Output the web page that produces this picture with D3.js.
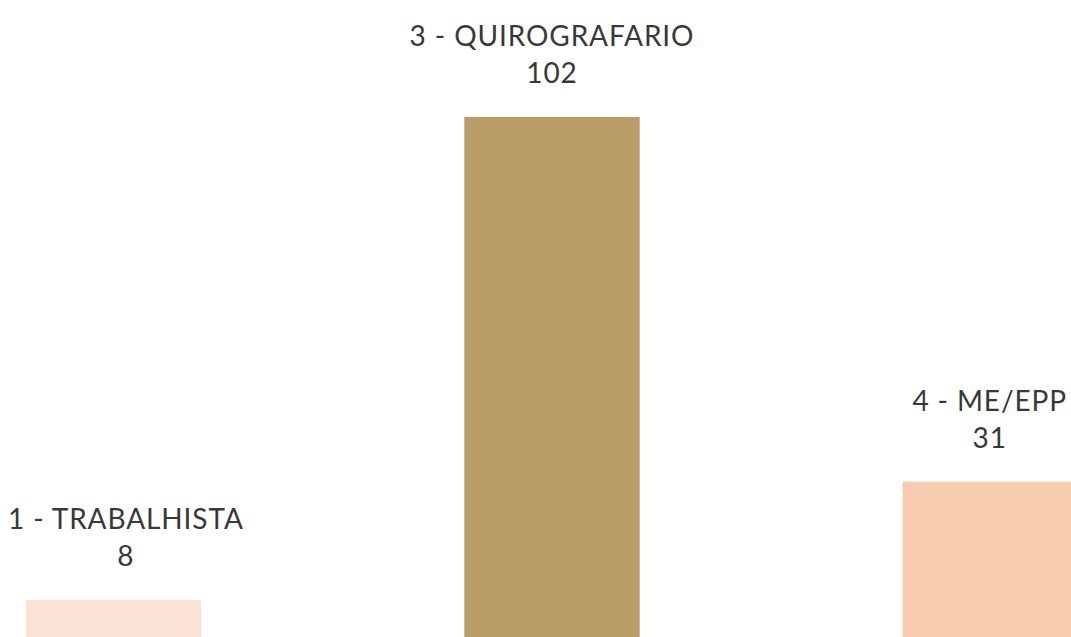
<!DOCTYPE html>
<html>
<head>
<meta charset="utf-8">
<script src="https://cdn.jsdelivr.net/npm/d3@7"></script>
<style>
  html, body { margin: 0; padding: 0; background: #fff; overflow: hidden; }
  .label { font-family: Lato, "Open Sans", sans-serif; font-size: 28px; letter-spacing: 0.9px; fill: #383838; }
</style>
</head>
<body>
<svg width="1071" height="637"></svg>
<script>
// dados
var categorias = ["1 - TRABALHISTA", "3 - QUIROGRAFARIO", "4 - ME/EPP"];
var valores = [8, 102, 31];
var cores = ["#fae3d5", "#b99d66", "#f6cbae"];

var svg = d3.select("svg"),
    width = +svg.attr("width"),
    margem = 8,
    top_bar = 117,
    base = 641;

var x = d3.scaleBand()
    .domain(categorias)
    .range([26, 1078])
    .paddingInner(0.6)
    .paddingOuter(0);

var y = d3.scaleLinear()
    .domain([0, d3.max(valores)])
    .range([base, top_bar]);

var dados = categorias.map(function(c, i) { return { nome: c, valor: valores[i], cor: cores[i] }; });

svg.selectAll("rect")
  .data(dados)
  .enter().append("rect")
    .attr("x", function(d) { return x(d.nome); })
    .attr("y", function(d) { return y(d.valor); })
    .attr("width", x.bandwidth())
    .attr("height", function(d) { return base - y(d.valor); })
    .style("fill", function(d) { return d.cor; });

var rotulo = svg.selectAll("text.label")
  .data(dados)
  .enter().append("text")
    .attr("class", "label")
    .attr("text-anchor", "middle");

rotulo.append("tspan")
    .attr("x", 0)
    .attr("dy", -37)
    .text(function(d) { return d.nome; });

rotulo.append("tspan")
    .attr("x", 0)
    .attr("dy", 37)
    .text(function(d) { return d.valor; });

// empurra o rotulo para dentro da area visivel
rotulo.attr("transform", function(d) {
  var w = this.getBBox().width,
      cx = x(d.nome) + x.bandwidth() / 2;
  cx = Math.max(margem + w / 2, Math.min(width - margem / 2 - w / 2, cx));
  return "translate(" + cx + "," + (y(d.valor) - 34) + ")";
});
</script>
</body>
</html>
